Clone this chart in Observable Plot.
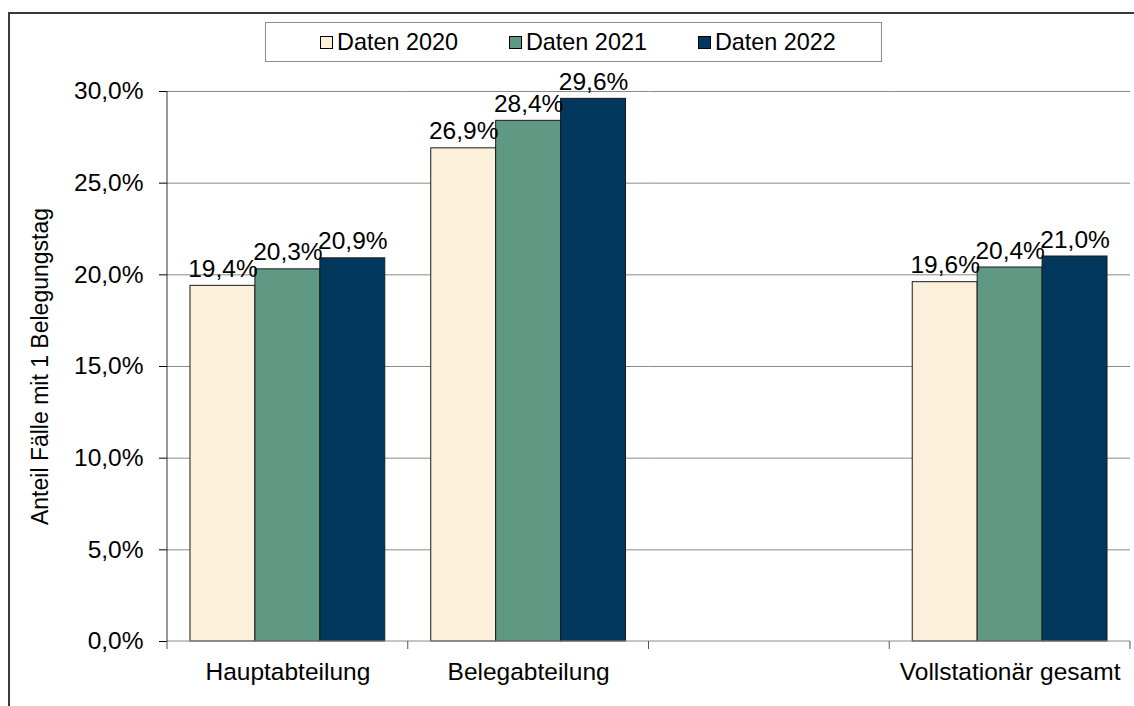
<!DOCTYPE html>
<html><head><meta charset="utf-8">
<script src="https://cdn.jsdelivr.net/npm/d3@7"></script>
<script src="https://cdn.jsdelivr.net/npm/@observablehq/plot@0.6"></script>
<style>
body{margin:0;background:#fff;font-family:"Liberation Sans",Arial,sans-serif;}
#wrap{position:relative;width:1134px;height:706px;overflow:hidden;background:#fff;}
#border{position:absolute;left:8px;top:12px;width:1200px;height:800px;border:2px solid #3a3a3a;box-sizing:border-box;}
#legend{position:absolute;left:265px;top:22px;width:617px;height:40px;border:1.5px solid #8c8c8c;box-sizing:border-box;display:flex;align-items:center;justify-content:flex-start;padding-left:54px;gap:51px;font-size:23.4px;color:#000;background:#fff;z-index:2;}
.item{display:flex;align-items:center;gap:4px;}
.sw{width:11px;height:11px;border:1px solid #000;box-sizing:content-box;}
#chart{position:absolute;left:0;top:0;}
</style>
</head><body>
<div id="wrap"><div id="border"></div><div id="legend"></div><div id="chart"></div></div>
<script>
const categories = ["Hauptabteilung", "Belegabteilung", " ", "Vollstationär gesamt"];
const series = ["Daten 2020", "Daten 2021", "Daten 2022"];
const daten2020 = [19.4, 26.9, null, 19.6];
const daten2021 = [20.3, 28.4, null, 20.4];
const daten2022 = [20.9, 29.6, null, 21.0];
const yTicks = [0, 5, 10, 15, 20, 25, 30];
const colors = ["#FDF0DA", "#5F9984", "#03385E"];

const seriesValues = [daten2020, daten2021, daten2022];
const rows = [];
categories.forEach((cat, i) => series.forEach((s, j) => {
  const v = seriesValues[j][i];
  if (v != null) rows.push({cat, series: s, value: v});
}));
const gridRows = [];
categories.forEach(cat => yTicks.filter(t => t > 0).forEach(v => gridRows.push({cat, v})));
const fmt = v => v.toFixed(1).replace(".", ",") + "%";

// legend
const legend = d3.select("#legend");
series.forEach((s, j) => {
  const it = legend.append("div").attr("class", "item");
  it.append("div").attr("class", "sw").style("background", colors[j]);
  it.append("span").text(s);
});

const chart = Plot.plot({
  width: 1134, height: 706,
  marginLeft: 167, marginRight: 4, marginTop: 91, marginBottom: 65,
  style: {fontFamily: "'Liberation Sans', Arial, sans-serif", fontSize: "24.5px", color: "#000", background: "transparent", overflow: "visible"},
  fx: {domain: categories, paddingInner: 0, paddingOuter: 0, axis: null, round: false},
  x: {domain: series, paddingInner: 0, paddingOuter: 0.354, axis: null, round: false},
  y: {domain: [0, 30], ticks: yTicks, tickFormat: fmt, tickSize: 8, tickPadding: 16,
      label: "Anteil Fälle mit 1 Belegungstag", labelAnchor: "center", labelArrow: "none", labelOffset: 136},
  color: {domain: series, range: colors},
  marks: [
    Plot.ruleY(gridRows, {fx: "cat", y: "v", stroke: "#8a8a8a", strokeWidth: 1, strokeOpacity: 1}),
    Plot.barY(rows, {fx: "cat", x: "series", y: "value", fill: "series", stroke: "#1a1a1a", strokeWidth: 1}),
    Plot.text(rows, {fx: "cat", x: "series", y: "value", text: d => fmt(d.value), lineAnchor: "bottom", dy: -9, fill: "#000"}),
    Plot.text(categories, {fx: d => d, text: d => d, frameAnchor: "bottom", lineAnchor: "bottom", dy: 38, fill: "#000"})
  ]
});
document.getElementById("chart").appendChild(chart);

// y-axis label slightly smaller, as in the reference
d3.select(chart).selectAll('g[aria-label="y-axis label"] text').style("font-size", "23px");

// axis lines and category boundary ticks from the library's scales
const fxS = chart.scale("fx"), yS = chart.scale("y");
const svg = d3.select(chart);
const left = fxS.apply(categories[0]);
const right = fxS.apply(categories[categories.length - 1]) + fxS.bandwidth;
const y0 = yS.apply(0), yTop = yS.apply(30);
const g = svg.append("g");
g.append("line").attr("x1", left).attr("x2", right).attr("y1", y0).attr("y2", y0).attr("stroke", "#8a8a8a");
categories.map(c => fxS.apply(c)).concat([right]).forEach(x =>
  g.append("line").attr("x1", x).attr("x2", x).attr("y1", y0).attr("y2", y0 + 8).attr("stroke", "#555"));
g.append("line").attr("x1", left).attr("x2", left).attr("y1", yTop).attr("y2", y0).attr("stroke", "#333");
</script>
</body></html>
